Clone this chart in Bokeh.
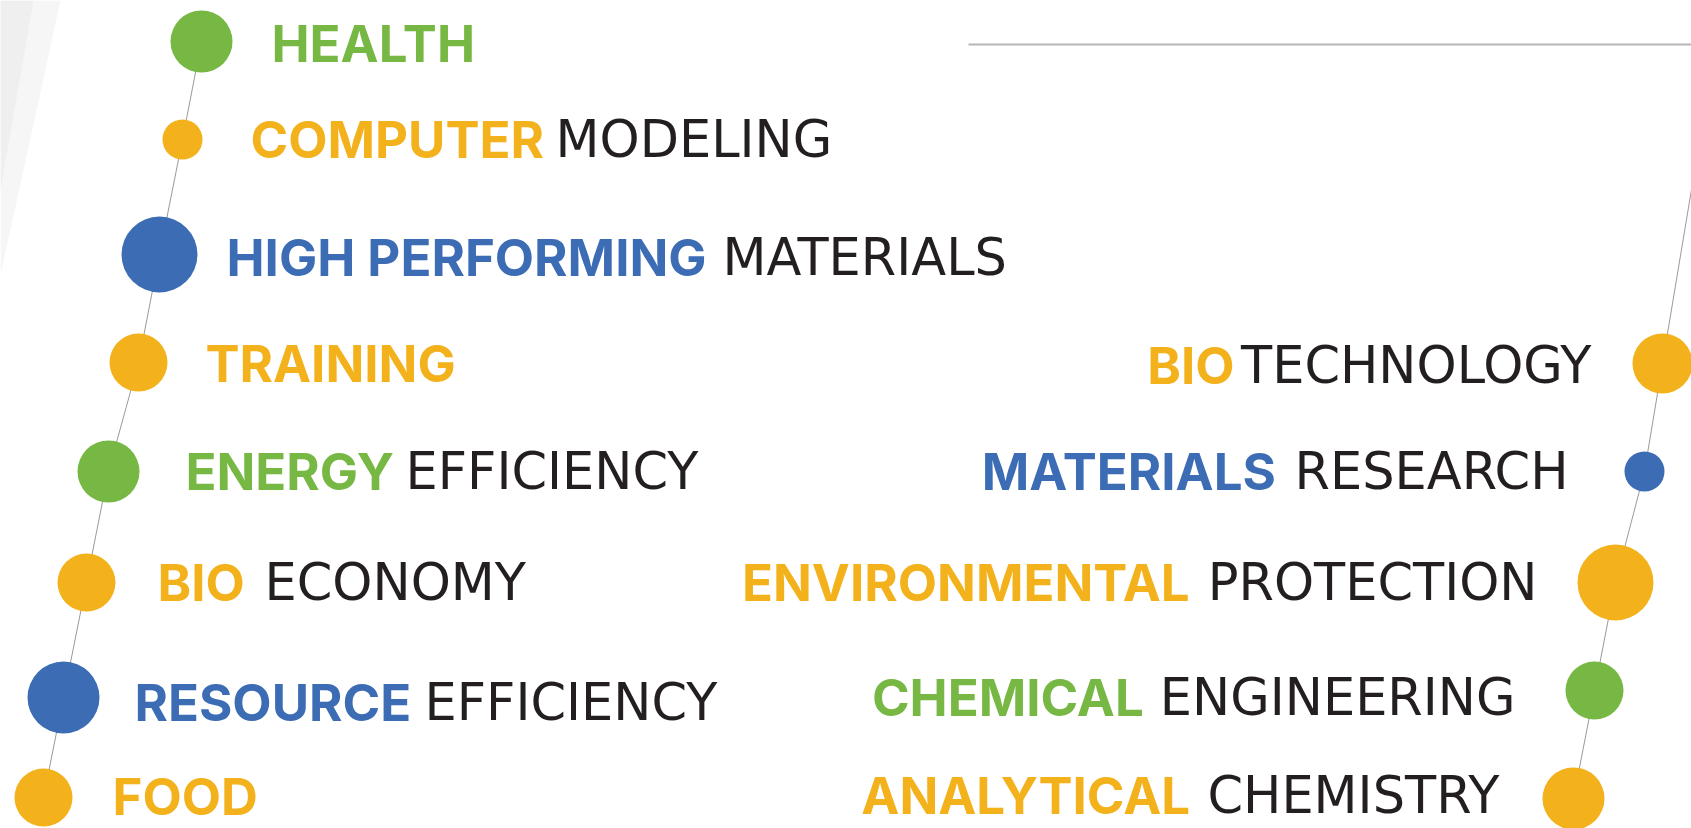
from bokeh.plotting import figure
from bokeh.models import ColumnDataSource
from bokeh.core.properties import value
from bokeh.embed import file_html
from bokeh.resources import INLINE

# ---------------- data ----------------
left_bold = ["HEALTH", "COMPUTER", "HIGH PERFORMING", "TRAINING", "ENERGY", "BIO", "RESOURCE", "FOOD"]
left_rest = ["", "MODELING", "MATERIALS", "", "EFFICIENCY", "ECONOMY", "EFFICIENCY", ""]
left_group = ["green", "orange", "blue", "orange", "green", "orange", "blue", "orange"]
left_dot_x = [201, 182, 159, 138, 108, 86, 63, 43]
left_dot_y = [41, 139, 254, 362, 471, 582, 697, 797]
left_dot_d = [62, 40, 76, 58, 62, 58, 72, 58]
left_bold_x = [271, 250, 226, 205, 185, 157, 134, 112]
left_rest_x = [0, 555, 722, 0, 405, 264, 424, 0]
left_text_y = [43, 139, 257, 363, 471, 582, 702, 796]

right_bold = ["BIO", "MATERIALS", "ENVIRONMENTAL", "CHEMICAL", "ANALYTICAL"]
right_rest = ["TECHNOLOGY", "RESEARCH", "PROTECTION", "ENGINEERING", "CHEMISTRY"]
right_group = ["orange", "blue", "orange", "green", "orange"]
right_dot_x = [1662, 1644, 1615, 1594, 1573]
right_dot_y = [363, 471, 582, 690, 798]
right_dot_d = [60, 40, 76, 58, 62]
right_gap = [2, 16, 18, 16, 14]
right_rest_end = [1591, 1568, 1537, 1515, 1499]
right_text_y = [365, 471, 582, 697, 795]

# ---------------- styles ----------------
PALETTE = {"green": "#76b843", "orange": "#f3b11b", "blue": "#3c6cb4"}
DARK = "#231f20"
LINE = "#9a9a9a"
BOLD_FONT = value("Inter")
REG_FONT = value("DejaVu Sans")
BOLD_PX = 51
REG_PX = 51

# approximate DejaVu Sans advance widths (em) for upper-case letters
DJV = dict(A=.684, B=.686, C=.698, D=.770, E=.632, F=.575, G=.775, H=.752, I=.295,
           J=.295, K=.656, L=.557, M=.863, N=.748, O=.787, P=.603, Q=.787, R=.695,
           S=.635, T=.611, U=.732, V=.684, W=.989, X=.685, Y=.611, Z=.685)
DJV[" "] = .318


def reg_width(s):
    return sum(DJV.get(ch, .65) for ch in s) * REG_PX


W, H = 1691, 828
p = figure(width=W, height=H, x_range=(0, W), y_range=(H, 0),
           output_backend="svg", toolbar_location=None, min_border=0)
p.axis.visible = False
p.grid.visible = False
p.outline_line_color = None
p.background_fill_color = "white"
p.border_fill_color = "white"

# faint grey page edge at top left
p.patch([0, 60, 0], [0, 0, 275], fill_color="#f6f6f6", line_color=None)
p.patch([0, 33, 0], [0, 0, 190], fill_color="#efefef", line_color=None)

# top rule
p.line([968, 1700], [44, 44], line_color="#b5b5b5", line_width=2)

# connecting lines
p.line(left_dot_x, left_dot_y, line_color=LINE, line_width=1)
dx_top = (right_dot_x[0] - right_dot_x[1]) / (right_dot_y[1] - right_dot_y[0])
dx_bot = (right_dot_x[-2] - right_dot_x[-1]) / (right_dot_y[-1] - right_dot_y[-2])
rx = [right_dot_x[0] + dx_top * (right_dot_y[0] - 150)] + right_dot_x + \
     [right_dot_x[-1] - dx_bot * (850 - right_dot_y[-1])]
ry = [150] + right_dot_y + [850]
p.line(rx, ry, line_color=LINE, line_width=1)

# dots
ls = ColumnDataSource(dict(x=left_dot_x, y=left_dot_y, d=left_dot_d,
                           c=[PALETTE[g] for g in left_group]))
p.scatter("x", "y", size="d", marker="circle", fill_color="c", line_color=None, source=ls)
rs = ColumnDataSource(dict(x=right_dot_x, y=right_dot_y, d=right_dot_d,
                           c=[PALETTE[g] for g in right_group]))
p.scatter("x", "y", size="d", marker="circle", fill_color="c", line_color=None, source=rs)

# left labels
lb = ColumnDataSource(dict(x=left_bold_x, y=left_text_y, t=left_bold,
                           c=[PALETTE[g] for g in left_group]))
p.text("x", "y", text="t", text_color="c", source=lb, text_font=BOLD_FONT,
       text_font_style="bold", text_font_size=f"{BOLD_PX}px", text_align="left",
       text_baseline="alphabetic")
idx = [i for i, t in enumerate(left_rest) if t]
lr = ColumnDataSource(dict(x=[left_rest_x[i] for i in idx],
                           y=[left_text_y[i] for i in idx],
                           t=[left_rest[i] for i in idx]))
p.text("x", "y", text="t", source=lr, text_color=DARK, text_font=REG_FONT,
       text_font_size=f"{REG_PX}px", text_align="left", text_baseline="alphabetic")

# right labels
bold_end = [e - reg_width(t) - g for e, t, g in zip(right_rest_end, right_rest, right_gap)]
rb = ColumnDataSource(dict(x=bold_end, y=right_text_y, t=right_bold,
                           c=[PALETTE[g] for g in right_group]))
p.text("x", "y", text="t", text_color="c", source=rb, text_font=BOLD_FONT,
       text_font_style="bold", text_font_size=f"{BOLD_PX}px", text_align="right",
       text_baseline="alphabetic")
rr = ColumnDataSource(dict(x=right_rest_end, y=right_text_y, t=right_rest))
p.text("x", "y", text="t", source=rr, text_color=DARK, text_font=REG_FONT,
       text_font_size=f"{REG_PX}px", text_align="right", text_baseline="alphabetic")

open("out.html", "w").write(file_html(p, INLINE))
